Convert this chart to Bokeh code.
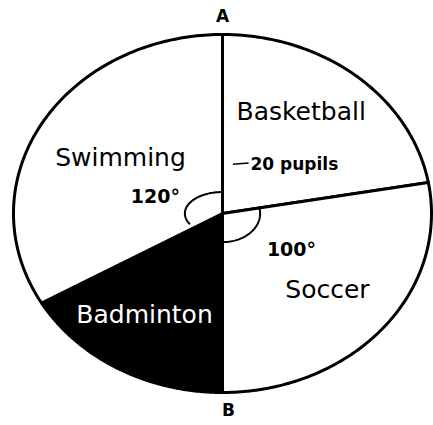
import numpy as np
from bokeh.plotting import figure
from bokeh.models import ColumnDataSource, Range1d
from bokeh.embed import file_html
from bokeh.resources import INLINE
from bokeh.core.properties import value

# ---- data ----
sports = ["Basketball", "Soccer", "Badminton", "Swimming"]
angles = [80, 100, 60, 120]          # degrees, clockwise from A (top)
fills = ["white", "white", "black", "white"]
label_colors = ["black", "black", "white", "black"]
angle_marks = ["", "100\u00b0", "", "120\u00b0"]
pupil_note = "20 pupils"
points = ["A", "B"]

# ---- layout constants (positions in pie units) ----
label_x = [0.067, 0.502, -0.373, -0.488]
label_y = [0.570, -0.425, -0.564, 0.313]
label_align = ["left", "center", "center", "center"]
mark_x = [0.0, 0.330, 0.0, -0.321]
mark_y = [0.0, -0.196, 0.0, 0.10]
arc_r = [(0.0, 0.0), (0.18, 0.16), (0.0, 0.0), (0.18, 0.12)]

p = figure(width=433, height=425, output_backend="svg", toolbar_location=None,
           x_range=Range1d(-1.0622, 1.0096), y_range=Range1d(-1.1844, 1.1899),
           x_axis_location=None, y_axis_location=None,
           min_border=0, min_border_left=0, min_border_right=0,
           min_border_top=0, min_border_bottom=0)
p.grid.visible = False
p.outline_line_color = None
p.background_fill_color = "white"
p.border_fill_color = "white"

cum = np.concatenate([[0], np.cumsum(angles)])
xs, ys = [], []
for i in range(len(sports)):
    a = np.radians(np.linspace(90 - cum[i], 90 - cum[i + 1], 120))
    xs.append(np.concatenate([[0], np.cos(a), [0]]))
    ys.append(np.concatenate([[0], np.sin(a), [0]]))
p.patches(xs, ys, fill_color=fills, line_color="black", line_width=3,
          line_join="round")

# angle arcs for labelled sectors
for i in range(len(sports)):
    if angle_marks[i]:
        a = np.radians(np.linspace(90 - cum[i], 90 - cum[i + 1], 60))
        p.line(arc_r[i][0] * np.cos(a), arc_r[i][1] * np.sin(a),
               line_color="black", line_width=2)

src = ColumnDataSource(dict(x=label_x, y=label_y, t=sports, c=label_colors,
                            al=label_align))
p.text("x", "y", text="t", text_color="c", text_align="al",
       text_baseline="middle", text_font=value("DejaVu Sans"),
       text_font_size="25px", source=src)

msrc = ColumnDataSource(dict(x=[mark_x[i] for i in range(4) if angle_marks[i]],
                             y=[mark_y[i] for i in range(4) if angle_marks[i]],
                             t=[m for m in angle_marks if m]))
p.text("x", "y", text="t", text_align="center", text_baseline="middle",
       text_font=value("DejaVu Sans"), text_font_style="bold",
       text_font_size="19px", source=msrc)

# pointer stroke and note for basketball
p.line([0.05, 0.125], [0.275, 0.282], line_color="black", line_width=1.5)
p.text([0.134], [0.279], text=[pupil_note], text_align="left",
       text_baseline="middle", text_font=value("DejaVu Sans"),
       text_font_style="bold", text_font_size="17px")

p.text([0.0, 0.029], [1.106, -1.10], text=points, text_align="center",
       text_baseline="middle", text_font=value("DejaVu Sans"),
       text_font_style="bold", text_font_size="17px")

open("out.html", "w").write(file_html(p, INLINE))
